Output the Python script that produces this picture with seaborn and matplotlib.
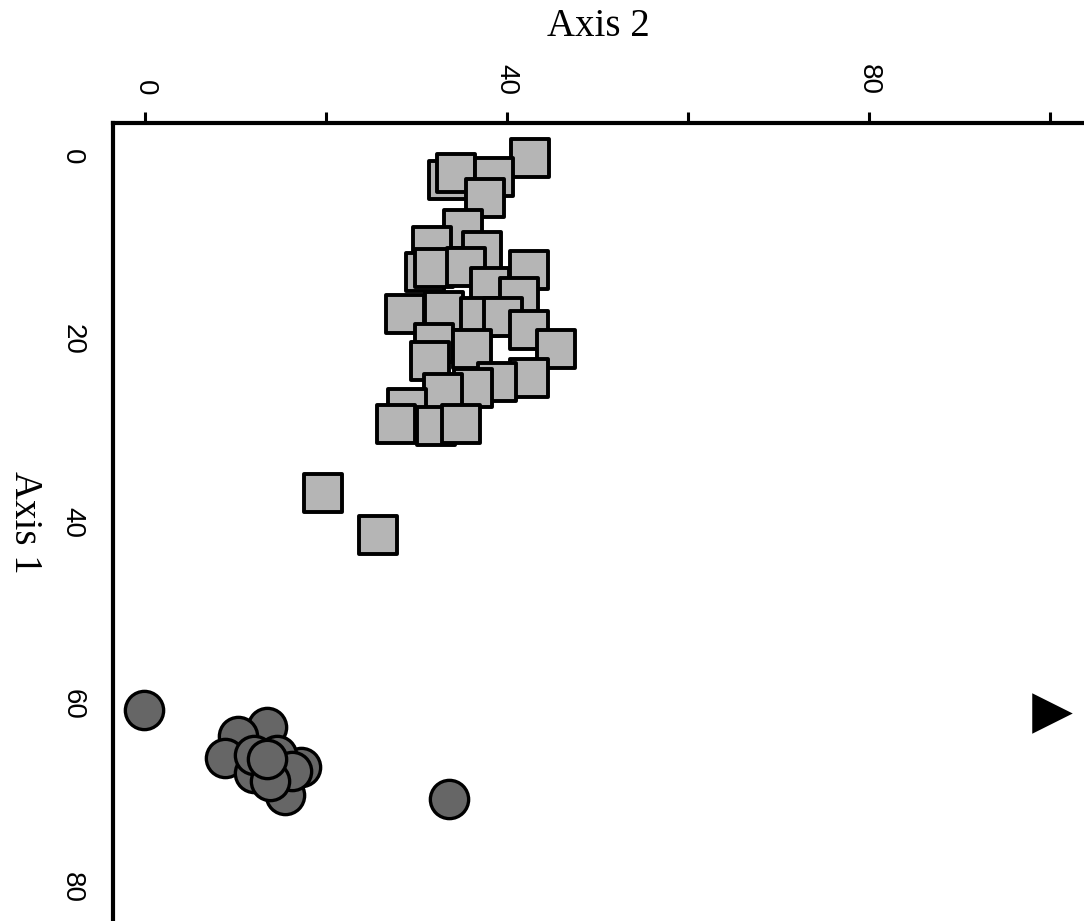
import matplotlib
matplotlib.use("Agg")
import matplotlib.pyplot as plt
import seaborn as sns
import pandas as pd

# Datos (Axis 2 = horizontal superior, Axis 1 = vertical invertido)
square_axis2 = [42.6, 33.5, 34.4, 38.6, 37.6, 35.2, 31.7, 37.2, 30.9, 32.0,
                35.5, 42.5, 38.1, 41.3, 28.7, 33.0, 37.0, 39.6, 42.5, 31.9,
                36.1, 45.4, 31.5, 42.4, 38.9, 36.3, 32.9, 29.0, 27.8, 32.2,
                34.9, 19.7, 25.8]
square_axis1 = [0.1, 2.5, 1.7, 2.2, 4.5, 7.9, 9.8, 10.3, 12.6, 12.2,
                12.0, 12.4, 14.2, 15.3, 17.2, 16.9, 17.5, 17.5, 18.9, 20.4,
                21.0, 21.0, 22.4, 24.2, 24.6, 25.3, 25.9, 27.5, 29.2, 29.5,
                29.2, 36.8, 41.4]

circle_axis2 = [-0.1, 33.6, 13.5, 10.3, 8.8, 17.3, 15.5, 12.0, 14.6, 12.0,
                16.2, 13.8, 13.5]
circle_axis1 = [60.6, 70.3, 62.5, 63.4, 65.8, 66.8, 69.9, 67.5, 65.5, 65.5,
                67.3, 68.4, 66.0]

triangle_axis2 = [100.3]
triangle_axis1 = [60.9]

x_ticks = [0, 20, 40, 60, 80, 100]
x_tick_labels = ["0", "", "40", "", "80", ""]
y_ticks = [0, 10, 20, 30, 40, 50, 60, 70, 80]
y_tick_labels = ["0", "", "20", "", "40", "", "60", "", "80"]

sns.set_style("white")
plt.rcParams["font.family"] = ["Liberation Sans", "DejaVu Sans"]
plt.rcParams["text.color"] = "black"
plt.rcParams["axes.labelcolor"] = "black"
plt.rcParams["xtick.color"] = "black"
plt.rcParams["ytick.color"] = "black"

df_sq = pd.DataFrame({"Axis 2": square_axis2, "Axis 1": square_axis1})
df_ci = pd.DataFrame({"Axis 2": circle_axis2, "Axis 1": circle_axis1})
df_tr = pd.DataFrame({"Axis 2": triangle_axis2, "Axis 1": triangle_axis1})

fig = plt.figure(figsize=(10.84, 9.21), dpi=100)
ax = fig.add_axes([0.1042, 0.0, 0.8958, 0.8664])

sns.scatterplot(data=df_sq, x="Axis 2", y="Axis 1", marker="s", s=760,
                color="#b5b5b5", edgecolor="black", linewidth=2.8, ax=ax)
sns.scatterplot(data=df_ci, x="Axis 2", y="Axis 1", marker="o", s=760,
                color="#666666", edgecolor="black", linewidth=2.4, ax=ax)
sns.scatterplot(data=df_tr, x="Axis 2", y="Axis 1", marker=">", s=850,
                color="black", linewidth=0, ax=ax)

ax.set_xlim(-3.54, 103.8)
ax.set_ylim(83.7, -3.72)

ax.xaxis.tick_top()
ax.xaxis.set_label_position("top")
ax.set_xticks(x_ticks)
ax.set_xticklabels(x_tick_labels, rotation=270, fontsize=20)
ax.set_yticks(y_ticks)
ax.set_yticklabels(y_tick_labels, rotation=270, fontsize=20, va="center")

ax.tick_params(axis="both", direction="out", length=8, width=2.2, color="black", pad=12)

ax.set_xlabel("Axis 2", fontsize=28, family=["Liberation Serif"], labelpad=20)
ax.set_ylabel("Axis 1", fontsize=28, family=["Liberation Serif"], rotation=270,
              labelpad=38, va="bottom")

for side in ["right", "bottom"]:
    ax.spines[side].set_visible(False)
for side in ["top", "left"]:
    ax.spines[side].set_linewidth(3)
    ax.spines[side].set_color("black")

fig.savefig("out.png", dpi=100)
